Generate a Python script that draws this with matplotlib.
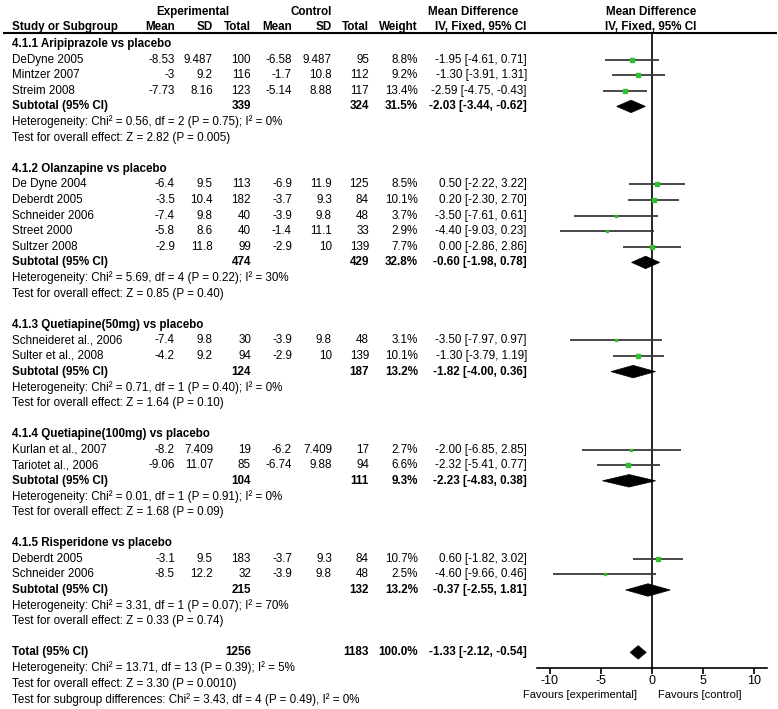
import matplotlib
matplotlib.use("Agg")
import matplotlib.pyplot as plt
from matplotlib.patches import Polygon
import numpy as np

plt.rcParams['font.family'] = ['Liberation Sans', 'DejaVu Sans']

# ---------------- data ----------------
group_titles = ["4.1.1 Aripiprazole vs placebo",
                "4.1.2 Olanzapine vs placebo",
                "4.1.3 Quetiapine(50mg) vs placebo",
                "4.1.4 Quetiapine(100mg) vs placebo",
                "4.1.5 Risperidone vs placebo"]

study_group = [0, 0, 0, 1, 1, 1, 1, 1, 2, 2, 3, 3, 4, 4]
study_names = ["DeDyne 2005", "Mintzer 2007", "Streim 2008",
               "De Dyne 2004", "Deberdt 2005", "Schneider 2006", "Street 2000", "Sultzer 2008",
               "Schneideret al., 2006", "Sulter et al., 2008",
               "Kurlan et al., 2007", "Tariotet al., 2006",
               "Deberdt 2005", "Schneider 2006"]
exp_mean = [-8.53, -3, -7.73, -6.4, -3.5, -7.4, -5.8, -2.9, -7.4, -4.2, -8.2, -9.06, -3.1, -8.5]
exp_sd = [9.487, 9.2, 8.16, 9.5, 10.4, 9.8, 8.6, 11.8, 9.8, 9.2, 7.409, 11.07, 9.5, 12.2]
exp_n = [100, 116, 123, 113, 182, 40, 40, 99, 30, 94, 19, 85, 183, 32]
ctl_mean = [-6.58, -1.7, -5.14, -6.9, -3.7, -3.9, -1.4, -2.9, -3.9, -2.9, -6.2, -6.74, -3.7, -3.9]
ctl_sd = [9.487, 10.8, 8.88, 11.9, 9.3, 9.8, 11.1, 10, 9.8, 10, 7.409, 9.88, 9.3, 9.8]
ctl_n = [95, 112, 117, 125, 84, 48, 33, 139, 48, 139, 17, 94, 84, 48]
weight = [8.8, 9.2, 13.4, 8.5, 10.1, 3.7, 2.9, 7.7, 3.1, 10.1, 2.7, 6.6, 10.7, 2.5]
md = [-1.95, -1.30, -2.59, 0.50, 0.20, -3.50, -4.40, 0.00, -3.50, -1.30, -2.00, -2.32, 0.60, -4.60]
ci_lo = [-4.61, -3.91, -4.75, -2.22, -2.30, -7.61, -9.03, -2.86, -7.97, -3.79, -6.85, -5.41, -1.82, -9.66]
ci_hi = [0.71, 1.31, -0.43, 3.22, 2.70, 0.61, 0.23, 2.86, 0.97, 1.19, 2.85, 0.77, 3.02, 0.46]

sub_exp_n = [339, 474, 124, 104, 215]
sub_ctl_n = [324, 429, 187, 111, 132]
sub_weight = [31.5, 32.8, 13.2, 9.3, 13.2]
sub_md = [-2.03, -0.60, -1.82, -2.23, -0.37]
sub_lo = [-3.44, -1.98, -4.00, -4.83, -2.55]
sub_hi = [-0.62, 0.78, 0.36, 0.38, 1.81]
sub_het = ["Heterogeneity: Chi\u00b2 = 0.56, df = 2 (P = 0.75); I\u00b2 = 0%",
           "Heterogeneity: Chi\u00b2 = 5.69, df = 4 (P = 0.22); I\u00b2 = 30%",
           "Heterogeneity: Chi\u00b2 = 0.71, df = 1 (P = 0.40); I\u00b2 = 0%",
           "Heterogeneity: Chi\u00b2 = 0.01, df = 1 (P = 0.91); I\u00b2 = 0%",
           "Heterogeneity: Chi\u00b2 = 3.31, df = 1 (P = 0.07); I\u00b2 = 70%"]
sub_z = ["Test for overall effect: Z = 2.82 (P = 0.005)",
         "Test for overall effect: Z = 0.85 (P = 0.40)",
         "Test for overall effect: Z = 1.64 (P = 0.10)",
         "Test for overall effect: Z = 1.68 (P = 0.09)",
         "Test for overall effect: Z = 0.33 (P = 0.74)"]

total_exp_n = 1256
total_ctl_n = 1183
total_weight = 100.0
total_md = -1.33
total_lo = -2.12
total_hi = -0.54
total_notes = ["Heterogeneity: Chi\u00b2 = 13.71, df = 13 (P = 0.39); I\u00b2 = 5%",
               "Test for overall effect: Z = 3.30 (P = 0.0010)",
               "Test for subgroup differences: Chi\u00b2 = 3.43, df = 4 (P = 0.49), I\u00b2 = 0%"]

x_ticks = [-10, -5, 0, 5, 10]
favours_left = "Favours [experimental]"
favours_right = "Favours [control]"

# ---------------- layout ----------------
W, H = 778, 709
fig = plt.figure(figsize=(W / 100, H / 100), dpi=100)
fig.patch.set_facecolor('white')
axt = fig.add_axes([0, 0, 1, 1])
axt.set_xlim(0, W)
axt.set_ylim(H, 0)
axt.axis('off')

AX_L, AX_R, AX_T, AX_B = 537, 767, 33, 668
ax = fig.add_axes([AX_L / W, 1 - AX_B / H, (AX_R - AX_L) / W, (AX_B - AX_T) / H])
ax.patch.set_alpha(0)
ax.set_ylim(AX_B, AX_T)
ax.set_xlim(-11.25, 11.3)

FS = 8.4
row0, dy = 44.0, 15.6
cols = [175, 213, 251, 292, 332, 369, 418, 527]
LX = 12


def ry(k):
    return row0 + dy * k


def txt(x, y, s, ha='left', bold=False, size=FS):
    axt.text(x, y, s, ha=ha, va='center', fontsize=size,
             fontweight='bold' if bold else 'normal', color='black')


def g(v):
    return f"{v:g}"


def mdstr(m, lo, hi):
    return f"{m:.2f} [{lo:.2f}, {hi:.2f}]"


def diamond(m, lo, hi, y, h):
    poly = Polygon([[lo, y], [m, y - h / 2], [hi, y], [m, y + h / 2]],
                   closed=True, facecolor='black', edgecolor='black', lw=0.5, zorder=4)
    ax.add_patch(poly)


# headers
txt(193, 12, "Experimental", ha='center', bold=True)
txt(311, 12, "Control", ha='center', bold=True)
txt(473, 12, "Mean Difference", ha='center', bold=True)
txt(651, 12, "Mean Difference", ha='center', bold=True)
y2 = 27
txt(LX, y2, "Study or Subgroup", bold=True)
for x, s in zip(cols[:7], ["Mean", "SD", "Total", "Mean", "SD", "Total", "Weight"]):
    txt(x, y2, s, ha='right', bold=True)
txt(481, y2, "IV, Fixed, 95% CI", ha='center', bold=True)
txt(651, y2, "IV, Fixed, 95% CI", ha='center', bold=True)
axt.plot([3, 777], [33, 33], color='black', lw=1.5, solid_capstyle='butt')

# rows
k = 0
for gi, title in enumerate(group_titles):
    txt(LX, ry(k), title, bold=True)
    k += 1
    for i in [j for j, gg in enumerate(study_group) if gg == gi]:
        y = ry(k)
        txt(LX, y, study_names[i])
        vals = [g(exp_mean[i]), g(exp_sd[i]), str(exp_n[i]),
                g(ctl_mean[i]), g(ctl_sd[i]), str(ctl_n[i]),
                f"{weight[i]:.1f}%", mdstr(md[i], ci_lo[i], ci_hi[i])]
        for x, s in zip(cols, vals):
            txt(x, y, s, ha='right')
        ax.plot([ci_lo[i], ci_hi[i]], [y, y], color='#3a3a3a', lw=1.3, zorder=3,
                solid_capstyle='butt')
        ax.plot(md[i], y, 's', ms=1.35 * np.sqrt(weight[i]) * 0.72,
                color='#2fc02f', mec='#2fc02f', zorder=5)
        k += 1
    y = ry(k)
    txt(LX, y, "Subtotal (95% CI)", bold=True)
    txt(cols[2], y, str(sub_exp_n[gi]), ha='right', bold=True)
    txt(cols[5], y, str(sub_ctl_n[gi]), ha='right', bold=True)
    txt(cols[6], y, f"{sub_weight[gi]:.1f}%", ha='right', bold=True)
    txt(cols[7], y, mdstr(sub_md[gi], sub_lo[gi], sub_hi[gi]), ha='right', bold=True)
    diamond(sub_md[gi], sub_lo[gi], sub_hi[gi], y, 12.5)
    k += 1
    txt(LX, ry(k), sub_het[gi]); k += 1
    txt(LX, ry(k), sub_z[gi]); k += 1
    k += 1

y = ry(k)
txt(LX, y, "Total (95% CI)", bold=True)
txt(cols[2], y, str(total_exp_n), ha='right', bold=True)
txt(cols[5], y, str(total_ctl_n), ha='right', bold=True)
txt(cols[6], y, f"{total_weight:.1f}%", ha='right', bold=True)
txt(cols[7], y, mdstr(total_md, total_lo, total_hi), ha='right', bold=True)
diamond(total_md, total_lo, total_hi, y, 13.5)
k += 1
for s in total_notes:
    txt(LX, ry(k), s)
    k += 1

# forest axis styling
ax.axvline(0, color='black', lw=1.2, zorder=2)
for sp in ['top', 'left', 'right']:
    ax.spines[sp].set_visible(False)
ax.spines['bottom'].set_linewidth(1.2)
ax.set_yticks([])
ax.set_xticks(x_ticks)
ax.set_xticklabels([str(t) for t in x_ticks])
ax.tick_params(axis='x', direction='out', length=4.5, width=1.2, pad=0.5,
               labelsize=9, colors='black')

txt(637, 695, favours_left, ha='right', size=8)
txt(658, 695, favours_right, ha='left', size=8)

fig.savefig("out.png", dpi=100, facecolor='white')
